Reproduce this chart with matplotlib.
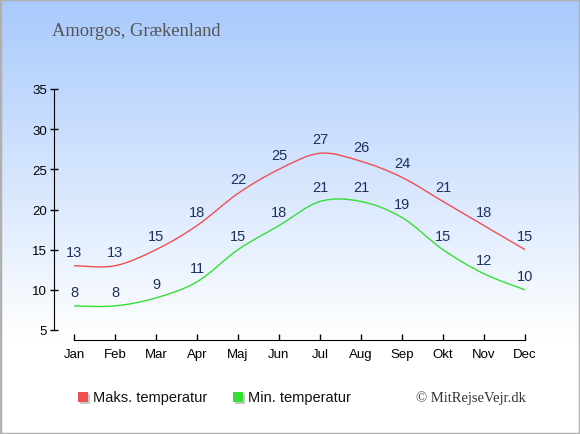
import numpy as np
import matplotlib
matplotlib.use('Agg')
import matplotlib.pyplot as plt
from matplotlib.path import Path
from matplotlib.patches import PathPatch, Rectangle

months = ['Jan', 'Feb', 'Mar', 'Apr', 'Maj', 'Jun', 'Jul', 'Aug', 'Sep', 'Okt', 'Nov', 'Dec']
max_temp = [13, 13, 15, 18, 22, 25, 27, 26, 24, 21, 18, 15]
min_temp = [8, 8, 9, 11, 15, 18, 21, 21, 19, 15, 12, 10]
yticks = [5, 10, 15, 20, 25, 30, 35]

W, H = 580, 435
label_color = '#1f3060'
red = '#f05050'
green = '#33e033'


def smoothPath(xs, ys, t=0.5):
    # catmull-rom style bezier through the points
    xs = np.asarray(xs, float)
    ys = np.asarray(ys, float)
    verts = [(xs[0], ys[0])]
    codes = [Path.MOVETO]
    n = len(xs)
    for i in range(n - 1):
        x0, y0 = (xs[i - 1], ys[i - 1]) if i > 0 else (xs[i], ys[i])
        x3, y3 = (xs[i + 2], ys[i + 2]) if i + 2 < n else (xs[i + 1], ys[i + 1])
        x1, y1 = xs[i], ys[i]
        x2, y2 = xs[i + 1], ys[i + 1]
        c1 = (x1 + (x2 - x0) * t / 3, y1 + (y2 - y0) * t / 3)
        c2 = (x2 - (x3 - x1) * t / 3, y2 - (y3 - y1) * t / 3)
        verts += [c1, c2, (x2, y2)]
        codes += [Path.CURVE4] * 3
    return Path(verts, codes)


fig = plt.figure(figsize=(W / 100, H / 100), dpi=100)

# background gradient
bg = fig.add_axes([0, 0, 1, 1])
grad = np.linspace(0, 1, 256).reshape(-1, 1)
top = np.array([0.66, 0.79, 0.99])
bottom = np.array([1.0, 1.0, 1.0])
frac = np.clip(grad / 0.78, 0, 1)
img = top * (1 - frac[..., None]) + bottom * frac[..., None]
bg.imshow(img, aspect='auto', extent=[0, 1, 0, 1], origin='upper')
bg.set_xlim(0, 1)
bg.set_ylim(0, 1)
bg.axis('off')
bg.add_patch(Rectangle((0, 0), 1, 1, transform=bg.transAxes, fill=False,
                       edgecolor='#b0b0b0', linewidth=2.5))

# axes placement in pixels
left_px, right_px = 54, 525
top_px, bottom_px = 90, 341
jan_px = 74
px_per_month = (right_px - jan_px) / 11.0
ax = fig.add_axes([left_px / W, (H - bottom_px) / H,
                   (right_px - left_px) / W, (bottom_px - top_px) / H])
ax.patch.set_alpha(0)
px_per_deg = (331 - 90) / 30.0
ax.set_xlim(-(jan_px - left_px) / px_per_month, 11)
ax.set_ylim(5 - (bottom_px - 331) / px_per_deg, 35)

x = np.arange(len(months))
ax.add_patch(PathPatch(smoothPath(x, max_temp), facecolor='none', edgecolor=red, linewidth=1))
ax.add_patch(PathPatch(smoothPath(x, min_temp), facecolor='none', edgecolor=green, linewidth=1))

off = 14 / px_per_deg
for i in range(len(months)):
    ax.text(x[i], max_temp[i] + off, str(max_temp[i]), ha='center', va='center',
            fontsize=10.5, color=label_color, family='Liberation Sans', clip_on=False)
    ax.text(x[i], min_temp[i] + off, str(min_temp[i]), ha='center', va='center',
            fontsize=10.5, color=label_color, family='Liberation Sans', clip_on=False)

for s in ['top', 'right']:
    ax.spines[s].set_visible(False)
ax.spines['left'].set_bounds(5, 35)
ax.spines['bottom'].set_bounds(0, 11)
ax.set_xticks(x)
ax.set_xticklabels(months)
ax.set_yticks(yticks)
ax.tick_params(axis='y', direction='inout', length=6, width=1, labelsize=9.5, pad=2)
ax.tick_params(axis='x', direction='in', length=4, width=1, labelsize=9.5, pad=6)
for lab in ax.get_xticklabels() + ax.get_yticklabels():
    lab.set_family('Liberation Sans')

# title and legend
fig.text(52 / W, 1 - 32 / H, 'Amorgos, Grækenland', family='Liberation Serif',
         fontsize=13.3, color='#555555', va='center', ha='left')

for sx, col, txt in [(78, red, 'Maks. temperatur'), (233, green, 'Min. temperatur')]:
    fig.patches.append(Rectangle(((sx + 1.5) / W, 1 - (404.5) / H), 10 / W, 10 / H,
                                 transform=fig.transFigure, facecolor='#c8c8c8', edgecolor='none'))
    fig.patches.append(Rectangle((sx / W, 1 - 403 / H), 10 / W, 10 / H,
                                 transform=fig.transFigure, facecolor=col, edgecolor='none'))
    fig.text((sx + 15) / W, 1 - 398 / H, txt, family='Liberation Sans', fontsize=10.5,
             color='#111111', va='center', ha='left')

fig.text(526 / W, 1 - 398 / H, '© MitRejseVejr.dk', family='Liberation Serif',
         fontsize=10.5, color='#333333', va='center', ha='right')

fig.savefig('out.png', dpi=100)
